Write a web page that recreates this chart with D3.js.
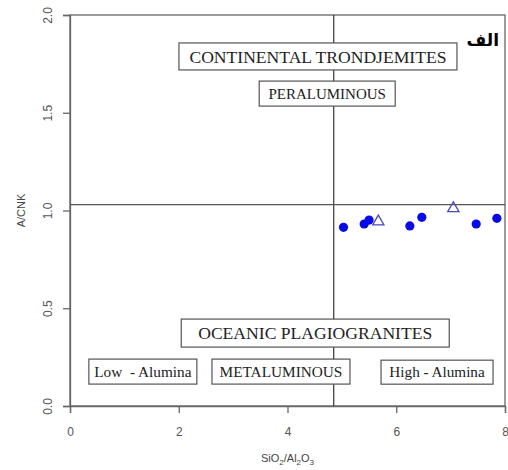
<!DOCTYPE html>
<html><head><meta charset="utf-8">
<script src="https://cdn.jsdelivr.net/npm/d3@7"></script>
<style>body{margin:0;background:#fff}svg{display:block}</style>
</head><body><svg id="c" width="508" height="470"></svg>
<script>
// data
const circleX = [5.03, 5.41, 5.50, 6.25, 6.47, 7.47, 7.85];
const circleY = [0.914, 0.931, 0.951, 0.921, 0.965, 0.931, 0.960];
const triX = [5.67, 7.05];
const triY = [0.943, 1.011];
const xTicks = [0, 2, 4, 6, 8];
const yTicks = [0.0, 0.5, 1.0, 1.5, 2.0];
const dividerX = 4.85;
const dividerY = 1.03;
const labels = ["CONTINENTAL TRONDJEMITES", "PERALUMINOUS", "OCEANIC PLAGIOGRANITES", "Low  - Alumina", "METALUMINOUS", "High - Alumina"];
const labelX = [4.56, 4.73, 4.51, 1.34, 3.88, 6.75];
const labelY = [1.788, 1.598, 0.373, 0.176, 0.176, 0.173];
const labelSize = [17.6, 15, 17.6, 15.3, 15.3, 15.2];
const boxW = [278, 136, 268, 108, 138, 112];
const boxH = [27, 25, 28, 25, 25, 24];

const svg = d3.select("#c");
const L = 70, R = 505, T = 15, B = 406;
const x = d3.scaleLinear().domain([0, 8]).range([L, R]);
const y = d3.scaleLinear().domain([0, 2]).range([B, T]);

const axisCol = "#666";
svg.append("rect").attr("x", L).attr("y", T).attr("width", R - L).attr("height", B - T)
  .attr("fill", "none").attr("stroke", axisCol).attr("stroke-width", 1.3);

const xa = svg.append("g").attr("transform", `translate(0,${B})`)
  .call(d3.axisBottom(x).tickValues(xTicks).tickFormat(d3.format("d")).tickSize(7).tickPadding(14));
const ya = svg.append("g").attr("transform", `translate(${L},0)`)
  .call(d3.axisLeft(y).tickValues(yTicks).tickFormat(d3.format(".1f")).tickSize(7));
[xa, ya].forEach(a => {
  a.select(".domain").attr("stroke", axisCol).attr("stroke-width", 1.3);
  a.selectAll(".tick line").attr("stroke", axisCol).attr("stroke-width", 1.3);
  a.selectAll("text").attr("fill", "#555").style("font-family", "'Liberation Sans', Arial, sans-serif").style("font-size", "12px");
});
ya.selectAll(".tick text").attr("transform", "rotate(-90)").attr("x", 0).attr("y", -22)
  .attr("dy", "0.35em").attr("text-anchor", "middle");

svg.append("line").attr("x1", x(dividerX)).attr("x2", x(dividerX)).attr("y1", T).attr("y2", B)
  .attr("stroke", "#333").attr("stroke-width", 1.2);
svg.append("line").attr("x1", L).attr("x2", R).attr("y1", y(dividerY)).attr("y2", y(dividerY))
  .attr("stroke", "#555").attr("stroke-width", 1.2);

labels.forEach((t, i) => {
  const cx = x(labelX[i]), cy = y(labelY[i]);
  svg.append("rect").attr("x", cx - boxW[i] / 2).attr("y", cy - boxH[i] / 2)
    .attr("width", boxW[i]).attr("height", boxH[i])
    .attr("fill", "#fff").attr("stroke", "#555").attr("stroke-width", 1.2);
  svg.append("text").attr("x", cx).attr("y", cy).attr("dy", "0.35em")
    .attr("text-anchor", "middle").attr("fill", "#222")
    .style("font-family", "'Liberation Serif', 'Times New Roman', serif")
    .style("font-size", labelSize[i] + "px").style("white-space", "pre")
    .attr("xml:space", "preserve")
    .text(t);
});

svg.append("g").selectAll("circle").data(circleX).join("circle")
  .attr("cx", d => x(d)).attr("cy", (d, i) => y(circleY[i])).attr("r", 4.6)
  .attr("fill", "#0a0ae6");
const tri = d3.symbol().type(d3.symbolTriangle).size(55);
svg.append("g").selectAll("path").data(triX).join("path")
  .attr("d", tri)
  .attr("transform", (d, i) => `translate(${x(d)},${y(triY[i])})`)
  .attr("fill", "none").attr("stroke", "#4a4ab8").attr("stroke-width", 1.3);

svg.append("text").attr("transform", `translate(21,${(T + B) / 2}) rotate(-90)`)
  .attr("text-anchor", "middle").attr("dy", "0.35em").attr("fill", "#444")
  .style("font-family", "'Liberation Sans', Arial, sans-serif").style("font-size", "11px")
  .text("A/CNK");
const xt = svg.append("text").attr("x", (L + R) / 2).attr("y", 462).attr("text-anchor", "middle")
  .attr("fill", "#444").style("font-family", "'Liberation Sans', Arial, sans-serif").style("font-size", "11px");
xt.append("tspan").text("SiO");
xt.append("tspan").attr("dy", 3).style("font-size", "8px").text("2");
xt.append("tspan").attr("dy", -3).text("/Al");
xt.append("tspan").attr("dy", 3).style("font-size", "8px").text("2");
xt.append("tspan").attr("dy", -3).text("O");
xt.append("tspan").attr("dy", 3).style("font-size", "8px").text("3");

svg.append("text").attr("x", 499).attr("y", 46).attr("text-anchor", "end")
  .attr("fill", "#000").style("font-family", "'DejaVu Sans', sans-serif")
  .style("font-weight", "bold").style("font-size", "17px").text("الف");
</script></body></html>
